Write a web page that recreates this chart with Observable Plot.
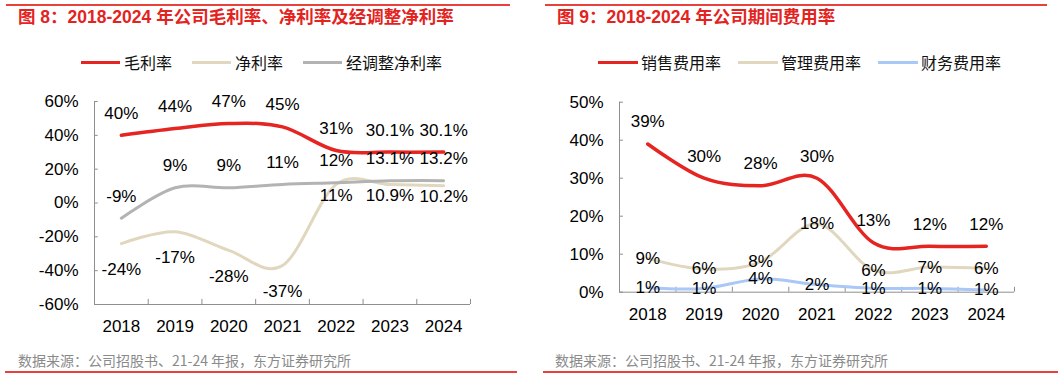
<!DOCTYPE html>
<html>
<head>
<meta charset="utf-8">
<script src="https://cdn.jsdelivr.net/npm/d3@7"></script>
<script src="https://cdn.jsdelivr.net/npm/@observablehq/plot@0.6"></script>
<style>
  html, body { margin: 0; padding: 0; background: #fff; }
  #root { position: relative; width: 1061px; height: 378px; overflow: hidden; background: #fff;
    font-family: "Liberation Sans", Arial, "Noto Sans CJK SC", sans-serif; }
  .rule { position: absolute; height: 1.5px; background: #E8403A; }
  .title { position: absolute; font-size: 17.5px; font-weight: 700; color: #E3231E; line-height: 22px; white-space: nowrap;
    font-family: "Liberation Sans", Arial, "Noto Sans CJK SC", sans-serif; }
  .leg { position: absolute; font-size: 16px; color: #111; line-height: 20px; white-space: nowrap;
    font-family: "Noto Sans CJK SC", sans-serif; }
  .legline { position: absolute; height: 3px; }
  .foot { position: absolute; font-size: 14px; color: #8a8a8a; line-height: 18px; white-space: nowrap;
    font-family: "Noto Sans CJK SC", sans-serif; }
  .plot { position: absolute; }
</style>
</head>
<body>
<div id="root"></div>
<script>
// ---------- data ----------
const years = ["2018", "2019", "2020", "2021", "2022", "2023", "2024"];

// Figure 8 (percent)
const grossMargin = [40, 44, 47, 45, 31, 30.1, 30.1];
const netMargin = [-24, -17, -28, -37, 11, 10.9, 10.2];
const adjNetMargin = [-9, 9, 9, 11, 12, 13.1, 13.2];
const leftTicks = [-60, -40, -20, 0, 20, 40, 60];

// Figure 9 (percent)
const sellingRate = [39, 30, 28, 30, 13, 12.1, 12.1];
const adminRate = [8.9, 6.1, 8.0, 18, 5.8, 6.6, 6.2];
const financeRate = [1.2, 1.0, 3.5, 2.0, 1.0, 1.0, 0.6];
const rightTicks = [0, 10, 20, 30, 40, 50];

const leftTitle = "图 8：2018-2024 年公司毛利率、净利率及经调整净利率";
const rightTitle = "图 9：2018-2024 年公司期间费用率";
const leftSeriesNames = ["毛利率", "净利率", "经调整净利率"];
const rightSeriesNames = ["销售费用率", "管理费用率", "财务费用率"];
const source = "数据来源：公司招股书、21-24 年报，东方证券研究所";

// ---------- styles ----------
const RED = "#E52521", BEIGE = "#E1D7BF", GRAY = "#B3B3B3", BLUE = "#A9C8F6";
const AXIS = "#8f8f8f";
const FONT = "'Liberation Sans', Arial, sans-serif";

const root = document.getElementById("root");
function el(cls, css, text) {
  const d = document.createElement("div");
  d.className = cls;
  Object.assign(d.style, css);
  if (text != null) d.textContent = text;
  root.appendChild(d);
  return d;
}

// ---------- chrome: left ----------
el("rule", {left: "6px", top: "4px", width: "504px"});
el("title", {left: "18px", top: "6px"}, leftTitle);
const leftLeg = [[81, 124, RED], [192, 235, BEIGE], [303, 346, GRAY]];
leftLeg.forEach(([lx, tx, c], i) => {
  el("legline", {left: lx + "px", top: "61px", width: "39px", background: c});
  el("leg", {left: tx + "px", top: "52px"}, leftSeriesNames[i]);
});
el("foot", {left: "18px", top: "351px"}, source);
el("rule", {left: "5px", top: "371px", width: "512px"});

// ---------- chrome: right ----------
el("rule", {left: "545px", top: "4px", width: "502px"});
el("title", {left: "557px", top: "6px"}, rightTitle);
const rightLeg = [[598, 641, RED], [738, 781, BEIGE], [878, 921, BLUE]];
rightLeg.forEach(([lx, tx, c], i) => {
  el("legline", {left: lx + "px", top: "61px", width: "40px", background: c});
  el("leg", {left: tx + "px", top: "52px"}, rightSeriesNames[i]);
});
el("foot", {left: "555px", top: "351px"}, source);
el("rule", {left: "543px", top: "371px", width: "515px"});

// ---------- helpers ----------
const bounds = d3.range(years.length + 1).map(i => i - 0.5);
const series = (vals) => vals.map((v, i) => ({i, v}));
const pctInt = v => Math.round(v) + "%";
const pctRaw = v => v + "%";

// ---------- left plot ----------
const g = series(grossMargin), n = series(netMargin), a = series(adjNetMargin);
const leftPlot = Plot.plot({
  width: 510, height: 255,
  marginLeft: 94, marginRight: 40, marginTop: 16, marginBottom: 36,
  x: {type: "linear", domain: [-0.5, 6.5], axis: null},
  y: {domain: [-60, 60], axis: null},
  style: {fontFamily: FONT, fontSize: "17px", color: "#000", background: "transparent"},
  marks: [
    Plot.ruleX([-0.5], {stroke: AXIS, strokeWidth: 1}),
    Plot.ruleY([-60], {stroke: AXIS, strokeWidth: 1}),
    Plot.ruleY(leftTicks, {y: d => d, x1: -0.5, x2: -0.43, stroke: AXIS}),
    Plot.ruleX(bounds, {x: d => d, y1: -60, y2: -57, stroke: AXIS}),
    Plot.text(leftTicks, {y: d => d, frameAnchor: "left", dx: -16, textAnchor: "end", lineAnchor: "middle", text: d => d + "%", fill: "#000", fontSize: 17}),
    Plot.text(years, {x: (d, i) => i, frameAnchor: "bottom", lineAnchor: "middle", dy: 22, text: d => d, fill: "#000", fontSize: 17}),
    Plot.line(n, {x: "i", y: "v", stroke: BEIGE, strokeWidth: 3, curve: "cardinal"}),
    Plot.line(a, {x: "i", y: "v", stroke: GRAY, strokeWidth: 3, curve: "cardinal"}),
    Plot.line(g, {x: "i", y: "v", stroke: RED, strokeWidth: 3.5, curve: "cardinal"}),
    Plot.text(g, {x: "i", y: "v", dy: -22, text: d => pctRaw(d.v), fill: "#000", fontSize: 17}),
    Plot.text(a, {x: "i", y: "v", dy: -22, text: d => pctRaw(d.v), fill: "#000", fontSize: 17}),
    Plot.text(n.filter(d => d.v < 0), {x: "i", y: "v", dy: 26, text: d => pctRaw(d.v), fill: "#000", fontSize: 17}),
    Plot.text(n.filter(d => d.v >= 0), {x: "i", y: "v", dy: 11, text: d => pctRaw(d.v), fill: "#000", fontSize: 17})
  ]
});
leftPlot.classList.add("plot");
Object.assign(leftPlot.style, {left: "0px", top: "85px"});
root.appendChild(leftPlot);

// ---------- right plot ----------
const s = series(sellingRate), m = series(adminRate), f = series(financeRate);
const rightPlot = Plot.plot({
  width: 531, height: 255,
  marginLeft: 89, marginRight: 47, marginTop: 16.7, marginBottom: 48.3,
  x: {type: "linear", domain: [-0.5, 6.5], axis: null},
  y: {domain: [0, 50], axis: null},
  style: {fontFamily: FONT, fontSize: "17px", color: "#000", background: "transparent"},
  marks: [
    Plot.ruleX([-0.5], {stroke: AXIS, strokeWidth: 1}),
    Plot.ruleY([0], {stroke: AXIS, strokeWidth: 1}),
    Plot.ruleY(rightTicks, {y: d => d, x1: -0.5, x2: -0.43, stroke: AXIS}),
    Plot.ruleX(bounds, {x: d => d, y1: 0, y2: 1.3, stroke: AXIS}),
    Plot.text(rightTicks, {y: d => d, frameAnchor: "left", dx: -16, textAnchor: "end", lineAnchor: "middle", text: d => d + "%", fill: "#000", fontSize: 17}),
    Plot.text(years, {x: (d, i) => i, frameAnchor: "bottom", lineAnchor: "middle", dy: 22, text: d => d, fill: "#000", fontSize: 17}),
    Plot.line(f, {x: "i", y: "v", stroke: BLUE, strokeWidth: 3, curve: "cardinal"}),
    Plot.line(m, {x: "i", y: "v", stroke: BEIGE, strokeWidth: 3, curve: "cardinal"}),
    Plot.line(s, {x: "i", y: "v", stroke: RED, strokeWidth: 3.5, curve: "cardinal"}),
    Plot.text(s, {x: "i", y: "v", dy: -22, text: d => pctInt(d.v), fill: "#000", fontSize: 17}),
    Plot.text(m, {x: "i", y: "v", text: d => pctInt(d.v), fill: "#000", fontSize: 17}),
    Plot.text(f, {x: "i", y: "v", text: d => pctInt(d.v), fill: "#000", fontSize: 17})
  ]
});
rightPlot.classList.add("plot");
Object.assign(rightPlot.style, {left: "530px", top: "85px"});
root.appendChild(rightPlot);
</script>
</body>
</html>
